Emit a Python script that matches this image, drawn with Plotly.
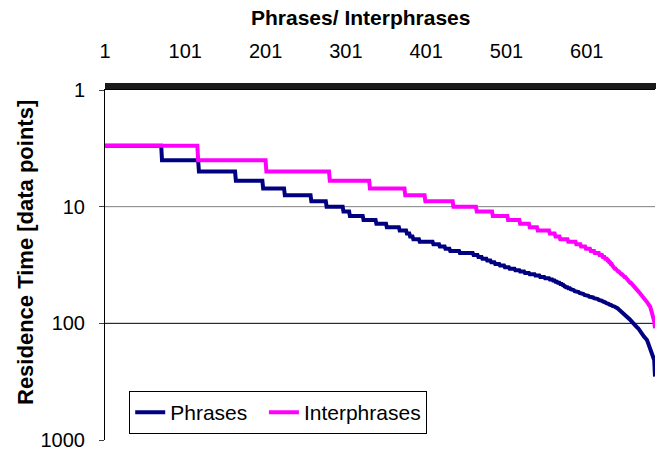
import numpy as np
import plotly.graph_objects as go

# ---- data (sorted residence times, one value per phrase) ----
x_tick_values = [1, 101, 201, 301, 401, 501, 601]
y_tick_values = [1, 10, 100, 1000]

phr_run_values = list(range(3, 78))
phr_run_counts = [71, 46, 46, 34, 27, 33, 19, 21, 8, 17, 16, 13, 16, 9, 4, 4, 8, 17, 8, 7,
                  6, 12, 17, 6, 5, 6, 5, 5, 6, 6, 6, 7, 6, 6, 6, 7, 6, 6, 6, 4,
                  3, 3, 3, 3, 2, 2, 3, 3, 2,
                  3, 3, 3, 3, 3, 3, 3, 3, 3, 3, 3, 3,
                  2, 2, 2, 2, 2, 2, 2, 2, 2, 2,
                  1, 1, 1, 1]
phr_tail = [78, 79, 80, 82, 83, 84, 86, 87, 88, 90, 91, 92, 93,
            95, 97, 98, 100, 102, 104, 105, 107, 109, 110, 112, 114,
            117, 120, 123, 126, 129, 131, 134, 136, 139,
            145, 152, 160, 167, 174, 181,
            192, 200, 206, 286]

int_run_values = list(range(3, 42))
int_run_counts = [116, 85, 79, 50, 44, 25, 35, 29, 20, 19, 15, 12, 10, 15, 7, 6, 10, 10,
                  6, 6, 6, 5, 6, 4, 3, 3, 2, 2, 2, 1, 2, 2, 2, 2, 2, 2, 2, 2, 1]
int_tail = [42, 43, 43, 44, 45, 45, 46, 47, 48, 48, 49, 50, 51, 52, 53, 54, 55,
            56, 57, 58, 59, 60, 61, 62, 63, 65,
            67, 69, 70, 72,
            76, 80, 84, 88, 96, 110]

phrases = np.concatenate([np.repeat(phr_run_values, phr_run_counts), phr_tail])
interphrases = np.concatenate([np.repeat(int_run_values, int_run_counts), int_tail])
x = np.arange(1, len(phrases) + 1)

FONT = "Liberation Sans, Arial, sans-serif"

fig = go.Figure()
fig.add_trace(go.Scatter(x=x, y=phrases, mode="lines", name="Phrases&nbsp;&nbsp;",
                         line=dict(color="#000080", width=4)))
fig.add_trace(go.Scatter(x=x, y=interphrases, mode="lines", name="Interphrases",
                         line=dict(color="#FF00FF", width=4)))

# horizontal gridlines at 10 and 100 (reversed log axis from 1 to 1000)
for v, col in [(10, "#808080"), (100, "#000000")]:
    frac = (3 - np.log10(v)) / 3
    fig.add_shape(type="line", xref="paper", yref="paper", x0=0, x1=1, y0=frac, y1=frac,
                  line=dict(color=col, width=1), layer="below")

fig.update_layout(
    width=657, height=453,
    margin=dict(l=105, r=2, t=90, b=13),
    paper_bgcolor="white", plot_bgcolor="white",
    font=dict(family=FONT, size=20, color="black"),
    showlegend=True,
    legend=dict(orientation="h", x=0.044, y=0.14, xanchor="left", yanchor="top",
                bordercolor="black", borderwidth=1, bgcolor="white",
                font=dict(size=21), itemwidth=30),
    xaxis=dict(side="top", range=[1, len(x)], tickmode="array", tickvals=x_tick_values,
               ticktext=[str(v) for v in x_tick_values],
               ticks="outside", ticklen=6, tickcolor="#1a1a1a", ticklabelstandoff=17,
               minor=dict(tickmode="linear", tick0=1, dtick=1, ticks="outside",
                          ticklen=6, tickcolor="#1a1a1a", tickwidth=1, showgrid=False),
               showline=True, linecolor="black", linewidth=1, showgrid=False,
               zeroline=False, tickfont=dict(size=20)),
    yaxis=dict(type="log", range=[3, 0], tickmode="array", tickvals=y_tick_values,
               ticktext=[str(v) for v in y_tick_values],
               ticks="outside", ticklen=5, tickcolor="#404040", ticklabelstandoff=10,
               showline=True, linecolor="black", linewidth=1, showgrid=False,
               zeroline=False, tickfont=dict(size=20)),
    annotations=[
        dict(text="<b>Phrases/ Interphrases</b>", xref="paper", yref="paper",
             x=(360 - 105) / 550, y=1 + (90 - 18) / 350, xanchor="center", yanchor="middle",
             showarrow=False, font=dict(size=21)),
        dict(text="<b>Residence Time [data points]</b>", xref="paper", yref="paper",
             x=-(105 - 25) / 550, y=(440 - 253) / 350, xanchor="center", yanchor="middle",
             textangle=-90, showarrow=False, font=dict(size=22)),
    ],
)

fig.write_html("out.html")
